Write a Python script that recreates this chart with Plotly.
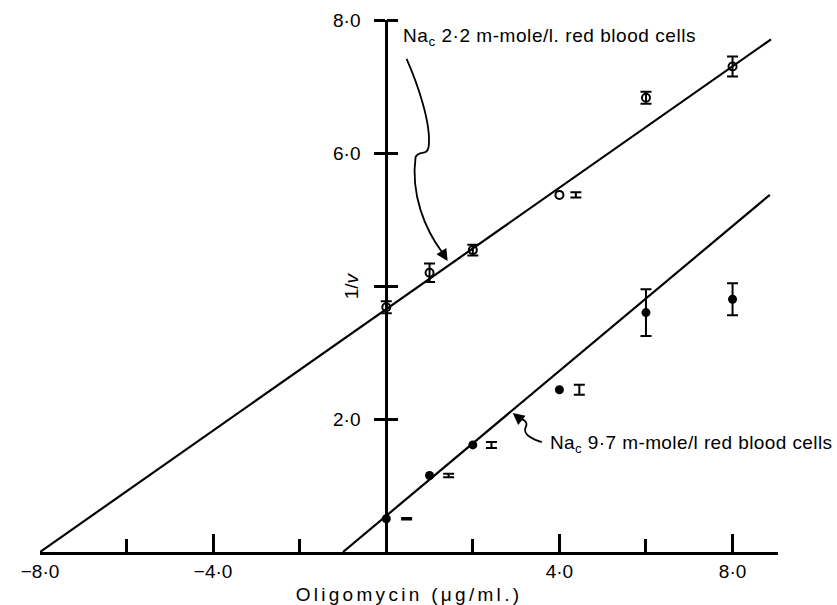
import plotly.graph_objects as go

# ---- data ----
open_x = [0, 1, 2, 4, 6, 8]
open_y = [3.68, 4.20, 4.54, 5.37, 6.83, 7.30]
open_err_x = [0, 1, 2, 4.38, 6, 8]
open_err_y = [3.68, 4.20, 4.54, 5.37, 6.83, 7.30]
open_err = [0.09, 0.14, 0.08, 0.04, 0.09, 0.15]

filled_x = [0, 1, 2, 4, 6, 8]
filled_y = [0.50, 1.15, 1.61, 2.44, 3.60, 3.80]
filled_err_x = [0.47, 1.44, 2.43, 4.46, 6, 8]
filled_err_y = [0.50, 1.15, 1.61, 2.44, 3.60, 3.80]
filled_err = [0.01, 0.025, 0.045, 0.075, 0.35, 0.24]

line_low_na_x = [-8.0, 8.89]
line_low_na_y = [0.0, 7.71]
line_high_na_x = [-1.0, 8.86]
line_high_na_y = [0.0, 5.37]

x_tickvals = [-8, -4, 4, 8]
x_ticktext = ["−8·0", "−4·0", "4·0", "8·0"]
x_minorvals = [-6, -2, 2, 6]
y_tickvals = [2, 4, 6, 8]
y_ticktext = ["2·0", "", "6·0", "8·0"]

label_low = "Na<sub>c</sub> 2·2 m-mole/l. red blood cells"
label_high = "Na<sub>c</sub> 9·7 m-mole/l red blood cells"
x_title = "Oligomycin (μg/ml.)"
y_title = "1/<i>v</i>"

X_MIN, X_MAX = -8.0, 9.05
Y_MIN, Y_MAX = 0.0, 8.0
FONT = "Liberation Sans, Arial, Helvetica, sans-serif"
BLACK = "black"


def spaced(txt, px):
    return '<span style="letter-spacing:%spx">%s</span>' % (px, txt)


fig = go.Figure()

# fitted lines
fig.add_trace(go.Scatter(x=line_low_na_x, y=line_low_na_y, mode="lines",
                         line=dict(color=BLACK, width=2.2), hoverinfo="skip", yaxis="y2"))
fig.add_trace(go.Scatter(x=line_high_na_x, y=line_high_na_y, mode="lines",
                         line=dict(color=BLACK, width=2.2), hoverinfo="skip"))

# error bars (drawn as separate, marker-less traces)
for ex, ey, ee in [(open_err_x, open_err_y, open_err), (filled_err_x, filled_err_y, filled_err)]:
    fig.add_trace(go.Scatter(
        x=ex, y=ey, mode="markers", marker=dict(size=1, color="rgba(0,0,0,0)"),
        error_y=dict(type="data", array=ee, visible=True, color=BLACK, thickness=2, width=5.5),
        hoverinfo="skip"))

# points
fig.add_trace(go.Scatter(x=open_x, y=open_y, mode="markers",
                         marker=dict(symbol="circle-open", size=8, color=BLACK, line=dict(width=2, color=BLACK))))
fig.add_trace(go.Scatter(x=filled_x, y=filled_y, mode="markers",
                         marker=dict(symbol="circle", size=9, color=BLACK)))

ypos = (0 - X_MIN) / (X_MAX - X_MIN)

fig.update_layout(
    width=837, height=605,
    margin=dict(l=40, r=59, t=20, b=53),
    paper_bgcolor="white", plot_bgcolor="white",
    showlegend=False,
    font=dict(family=FONT, color=BLACK, size=19),
    xaxis=dict(
        range=[X_MIN, X_MAX], showline=True, linewidth=3, linecolor=BLACK,
        showgrid=False, zeroline=False, automargin=False,
        ticks="inside", ticklen=18, tickwidth=2.5, tickcolor=BLACK,
        tickmode="array", tickvals=x_tickvals, ticktext=x_ticktext,
        tickfont=dict(size=19, family=FONT, color=BLACK),
        minor=dict(tickmode="array", tickvals=x_minorvals, ticks="inside", ticklen=13,
                   tickwidth=2.5, tickcolor=BLACK, showgrid=False),
        title=dict(text=spaced(x_title, 3.3),
                   font=dict(size=19, family=FONT, color=BLACK), standoff=8),
    ),
    yaxis=dict(
        range=[Y_MIN, Y_MAX], anchor="free", position=ypos,
        showline=True, linewidth=3, linecolor=BLACK,
        showgrid=False, zeroline=False, automargin=False,
        ticks="outside", ticklen=11, tickwidth=3, tickcolor=BLACK,
        tickmode="array", tickvals=y_tickvals, ticktext=y_ticktext,
        tickfont=dict(size=19, family=FONT, color=BLACK),
        ticklabelstandoff=10,
    ),
    yaxis2=dict(
        range=[Y_MIN, Y_MAX], anchor="free", position=ypos, overlaying="y", side="right",
        showline=False, showgrid=False, zeroline=False, automargin=False,
        ticks="outside", ticklen=11, tickwidth=3, tickcolor=BLACK,
        tickmode="array", tickvals=y_tickvals, showticklabels=False,
    ),
)

# y-axis title as rotated text beside the axis
fig.add_annotation(x=0, y=4, xref="x", yref="y", text=y_title, showarrow=False,
                   textangle=-90, xshift=-35, font=dict(size=19, family=FONT, color=BLACK))

# series labels
fig.add_annotation(x=0.35, y=7.74, xref="x", yref="y", text=spaced(label_low, 0.55), showarrow=False,
                   xanchor="left", yanchor="middle",
                   font=dict(size=19, family=FONT, color=BLACK))
fig.add_annotation(x=3.73, y=1.62, xref="x", yref="y", text=spaced(label_high, 0.4), showarrow=False,
                   xanchor="left", yanchor="middle",
                   font=dict(size=19, family=FONT, color=BLACK))

# curly leader lines
fig.add_shape(type="path", xref="x", yref="y",
              path="M 0.469 7.414 C 0.724 7.038, 1.047 6.436, 0.978 6.090 "
                   "C 0.932 5.940, 0.770 6.060, 0.677 5.940 "
                   "C 0.562 5.383, 0.886 4.857, 1.302 4.496",
              line=dict(color=BLACK, width=1.8))
fig.add_annotation(x=1.417, y=4.376, xref="x", yref="y", ax=-5, ay=-8, text="",
                   showarrow=True, arrowhead=2, arrowsize=1.3, arrowwidth=1.8, arrowcolor=BLACK)
fig.add_shape(type="path", xref="x", yref="y",
              path="M 3.593 1.654 C 3.431 1.684, 3.130 1.759, 3.222 1.880 "
                   "C 3.292 1.970, 3.130 2.000, 3.037 2.030",
              line=dict(color=BLACK, width=1.8))
fig.add_annotation(x=2.921, y=2.090, xref="x", yref="y", ax=5, ay=4, text="",
                   showarrow=True, arrowhead=2, arrowsize=1.3, arrowwidth=1.8, arrowcolor=BLACK)

fig.write_html("out.html")
